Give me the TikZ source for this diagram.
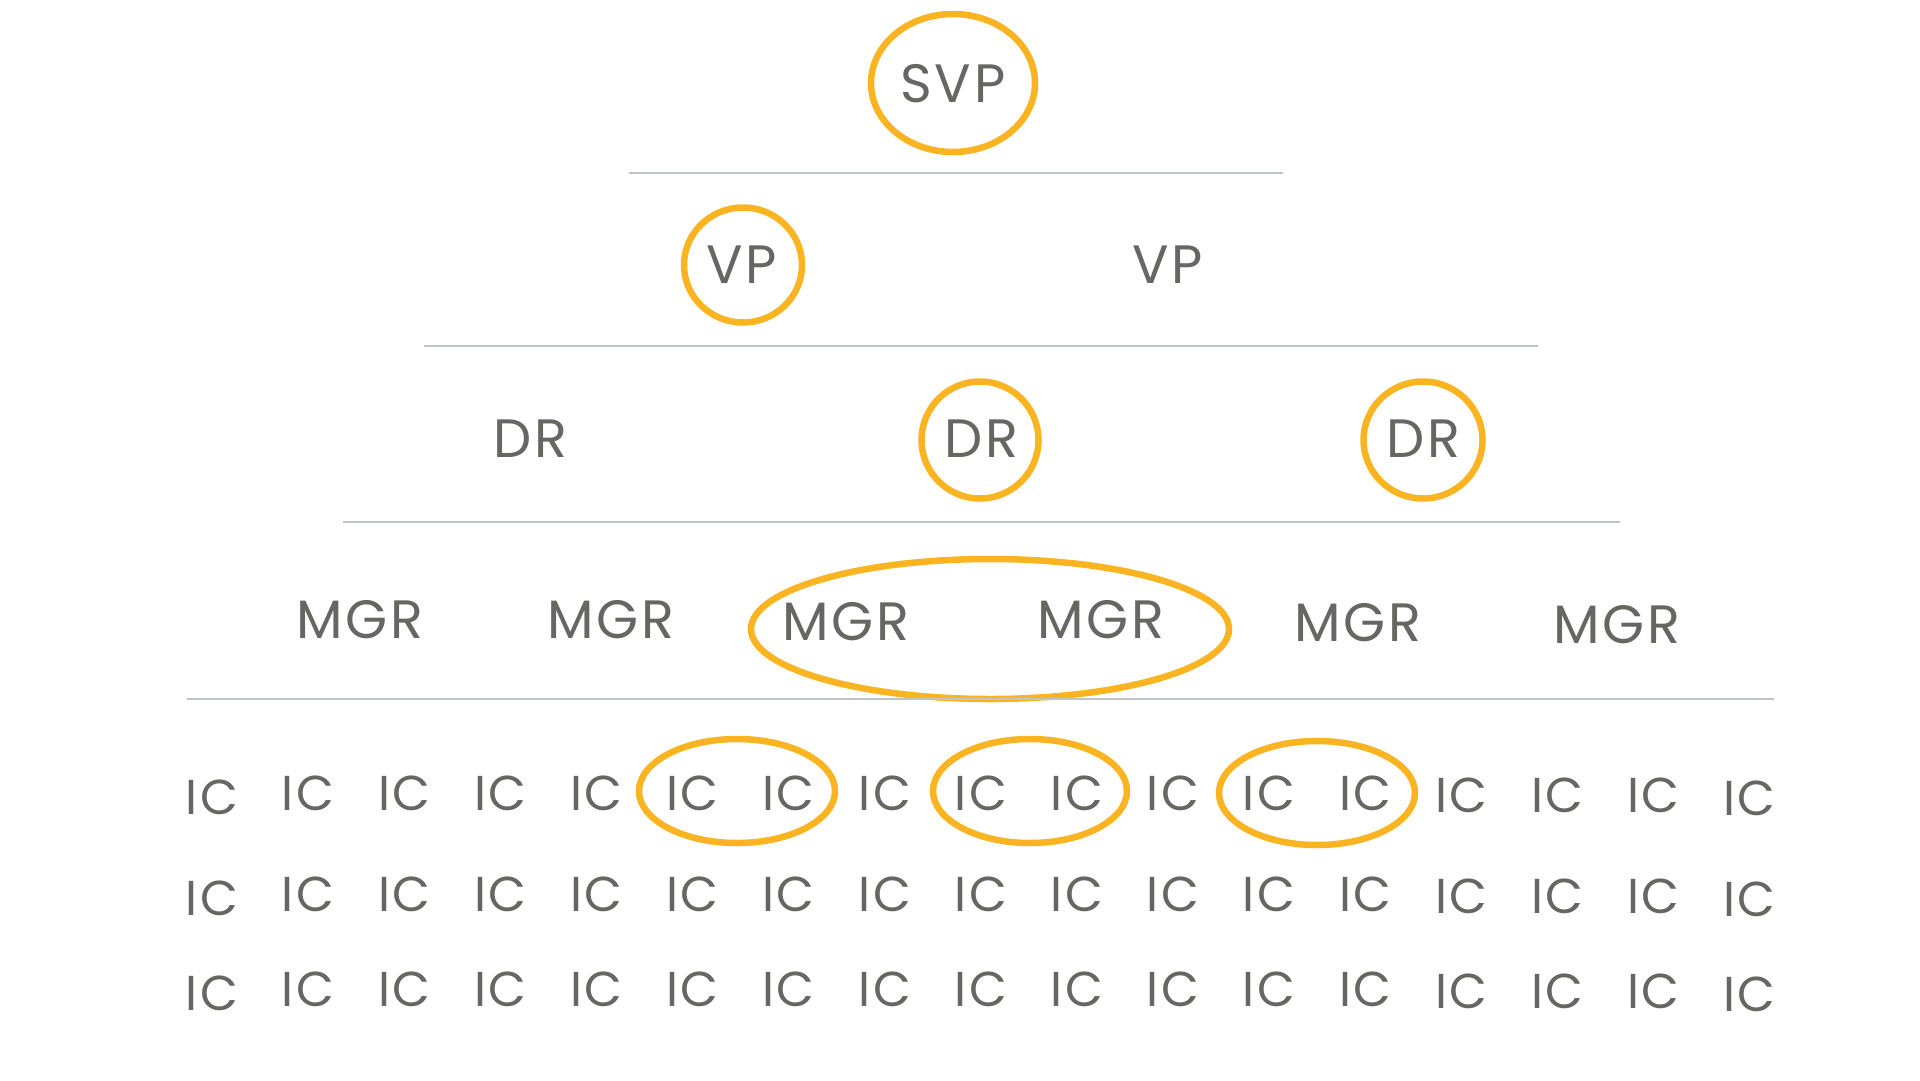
\documentclass[tikz,border=0pt]{standalone}
\usepackage{fontspec}
\setmainfont{Poppins}
\newfontfamily\widefont{Poppins}[LetterSpace=5]
\usetikzlibrary{shapes.geometric}
\definecolor{ringc}{RGB}{251,180,33}
\definecolor{txtc}{RGB}{102,102,98}
\definecolor{rulec}{RGB}{192,196,196}
\tikzset{
  lbl/.style={anchor=base, inner sep=0pt, text=txtc, font=\widefont\fontsize{54}{54}\selectfont},
  iclbl/.style={anchor=base, inner sep=0pt, text=txtc, font=\widefont\fontsize{49}{49}\selectfont},
  ring/.style={ellipse, draw=ringc, line width=6.5pt, inner sep=0pt},
  sep/.style={draw=rulec, line width=2.2pt}
}
\begin{document}
\begin{tikzpicture}[x=1pt,y=-1pt]
\fill[white] (0,0) rectangle (1920,1080);
\useasboundingbox (0,0) rectangle (1920,1080);

% rings
\node[ring, minimum width=164pt, minimum height=138pt] (rsvp) at (953,83) {};
\node[ring, minimum width=118pt, minimum height=115pt] (rvp) at (743,265) {};
\node[ring, minimum width=117pt, minimum height=117pt] (rdr2) at (980,440) {};
\node[ring, minimum width=119pt, minimum height=117pt] (rdr3) at (1423,440) {};
\node[ring, minimum width=478pt, minimum height=140pt] (rmgr) at (990,629) {};
\node[ring, minimum width=196pt, minimum height=104pt] (ric1) at (737,791) {};
\node[ring, minimum width=194pt, minimum height=104pt] (ric2) at (1030,791) {};
\node[ring, minimum width=196pt, minimum height=104pt] (ric3) at (1317,793) {};

% separators
\coordinate (s1a) at (629,173); \coordinate (s1b) at (1283,173);
\coordinate (s2a) at (424,346); \coordinate (s2b) at (1538,346);
\coordinate (s3a) at (343,522); \coordinate (s3b) at (1620,522);
\coordinate (s4a) at (187,699); \coordinate (s4b) at (1774,699);
\draw[sep] (s1a) -- (s1b);
\draw[sep] (s2a) -- (s2b);
\draw[sep] (s3a) -- (s3b);
\draw[sep] (s4a) -- (s4b);

% labels (placed at baseline: centre y + half cap height)
\node[lbl] (svp) at (953,102) {SVP};
\node[lbl] (vp1) at (742,283.5) {VP};
\node[lbl] (vp2) at (1168,283.5) {VP};
\node[lbl] (dr1) at (530,457.5) {DR};
\node[lbl] (dr2) at (981,457.5) {DR};
\node[lbl] (dr3) at (1423,457.5) {DR};
\node[lbl] (mgr1) at (360,638.5) {MGR};
\node[lbl] (mgr2) at (611,638.5) {MGR};
\node[lbl] (mgr3) at (846,640.5) {MGR};
\node[lbl] (mgr4) at (1101,638.5) {MGR};
\node[lbl] (mgr5) at (1358,641.5) {MGR};
\node[lbl] (mgr6) at (1617,643.5) {MGR};

\foreach \r/\yy in {1/810, 2/911, 3/1006}{
  \foreach \c/\dy in {0/4,1/0,2/0,3/0,4/0,5/0,6/0,7/0,8/0,9/0,10/0,11/0,12/0,13/2,14/2,15/2,16/5}{
    \pgfmathsetmacro\xx{212+96.1*\c}
    \node[iclbl] (ic-\r-\c) at (\xx,\yy+\dy) {IC};
  }
}
\end{tikzpicture}
\end{document}
